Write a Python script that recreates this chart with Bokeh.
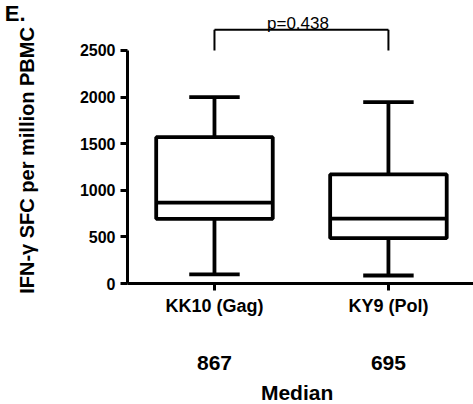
from bokeh.plotting import figure
from bokeh.models import FixedTicker, Label, Range1d, ColumnDataSource
from bokeh.embed import file_html
from bokeh.resources import INLINE
import math

# ---- data ----
categories = ["KK10 (Gag)", "KY9 (Pol)"]
whisker_low = [97, 86]
q1 = [694, 486]
median = [867, 695]
q3 = [1570, 1170]
whisker_high = [2000, 1945]
y_ticks = [0, 500, 1000, 1500, 2000, 2500]
p_value_text = "p=0.438"
median_labels = [str(m) for m in median]
median_title = "Median"
y_title = "IFN-\u03b3 SFC per million PBMC"
panel_letter = "E."

# annotation positions (data units)
bracket_top = 2722
bracket_bottom = 2500
p_text_y = 2790
median_row_y = -848
median_title_y = -1170

FONT = "Liberation Sans"

xpos = [i + 0.5 for i in range(len(categories))]
BOX_W = 0.67
CAP_W = 0.29
LW = 3.8

src = ColumnDataSource(dict(
    x=xpos, lo=whisker_low, q1=q1, med=median, q3=q3, hi=whisker_high,
    bx0=[x - BOX_W / 2 for x in xpos], bx1=[x + BOX_W / 2 for x in xpos],
    cx0=[x - CAP_W / 2 for x in xpos], cx1=[x + CAP_W / 2 for x in xpos],
))

p = figure(width=473, height=404, x_range=Range1d(-0.730, 1.989),
           y_range=Range1d(-1298, 3036), output_backend="svg", toolbar_location=None,
           min_border=0)
p.outline_line_color = None
p.grid.visible = False
p.background_fill_color = "white"
p.border_fill_color = "white"

# boxes
p.quad(left="bx0", right="bx1", bottom="q1", top="q3", source=src,
       fill_color="white", line_color="black", line_width=LW)
# median lines
p.segment(x0="bx0", x1="bx1", y0="med", y1="med", source=src, line_color="black", line_width=LW)
# whiskers
p.segment(x0="x", x1="x", y0="q3", y1="hi", source=src, line_color="black", line_width=LW)
p.segment(x0="x", x1="x", y0="lo", y1="q1", source=src, line_color="black", line_width=LW)
# caps
p.segment(x0="cx0", x1="cx1", y0="hi", y1="hi", source=src, line_color="black", line_width=LW)
p.segment(x0="cx0", x1="cx1", y0="lo", y1="lo", source=src, line_color="black", line_width=LW)

# significance bracket
p.line(x=xpos, y=[bracket_top] * len(xpos), line_color="black", line_width=2)
p.segment(x0=xpos, x1=xpos, y0=[bracket_top] * len(xpos), y1=[bracket_bottom] * len(xpos),
          line_color="black", line_width=2)
mid_x = sum(xpos) / len(xpos)
p.add_layout(Label(x=mid_x - 0.02, y=p_text_y, text=p_value_text, text_align="center",
                   text_baseline="alphabetic", text_font=FONT, text_font_size="17px",
                   text_color="black"))

# axes
ya = p.yaxis[0]
ya.fixed_location = 0
ya.ticker = FixedTicker(ticks=y_ticks)
ya.bounds = (0, 2500)
ya.axis_line_width = 3
ya.axis_line_color = "black"
ya.major_tick_line_width = 3
ya.major_tick_line_color = "black"
ya.major_tick_out = 7
ya.major_tick_in = 0
ya.minor_tick_line_color = None
ya.major_label_text_font = FONT
ya.major_label_text_font_style = "bold"
ya.major_label_text_font_size = "16px"
ya.major_label_text_color = "black"
ya.major_label_standoff = 5

xa = p.xaxis[0]
xa.fixed_location = 0
xa.ticker = FixedTicker(ticks=xpos)
xa.major_label_overrides = {x: c for x, c in zip(xpos, categories)}
xa.bounds = (0, 1.989)
xa.axis_line_width = 3
xa.axis_line_color = "black"
xa.major_tick_line_width = 3
xa.major_tick_line_color = "black"
xa.major_tick_out = 7
xa.major_tick_in = 0
xa.minor_tick_line_color = None
xa.major_label_text_font = FONT
xa.major_label_text_font_style = "bold"
xa.major_label_text_font_size = "18px"
xa.major_label_text_color = "black"
xa.major_label_standoff = 5

# y-axis title
p.add_layout(Label(x=-0.575, y=1320, text=y_title, angle=math.pi / 2,
                   text_align="center", text_baseline="middle",
                   text_font=FONT, text_font_size="20px", text_font_style="bold",
                   text_color="black"))

# median row
for x, lab in zip(xpos, median_labels):
    p.add_layout(Label(x=x, y=median_row_y, text=lab,
                       text_align="center", text_baseline="middle",
                       text_font=FONT, text_font_size="21px", text_font_style="bold",
                       text_color="black"))
p.add_layout(Label(x=mid_x - 0.025, y=median_title_y, text=median_title,
                   text_align="center", text_baseline="middle",
                   text_font=FONT, text_font_size="21px", text_font_style="bold",
                   text_color="black"))

# panel letter
p.add_layout(Label(x=-0.705, y=3036, text=panel_letter,
                   text_align="left", text_baseline="top",
                   text_font=FONT, text_font_size="22px", text_font_style="bold",
                   text_color="black"))

open("out.html", "w").write(file_html(p, INLINE))
